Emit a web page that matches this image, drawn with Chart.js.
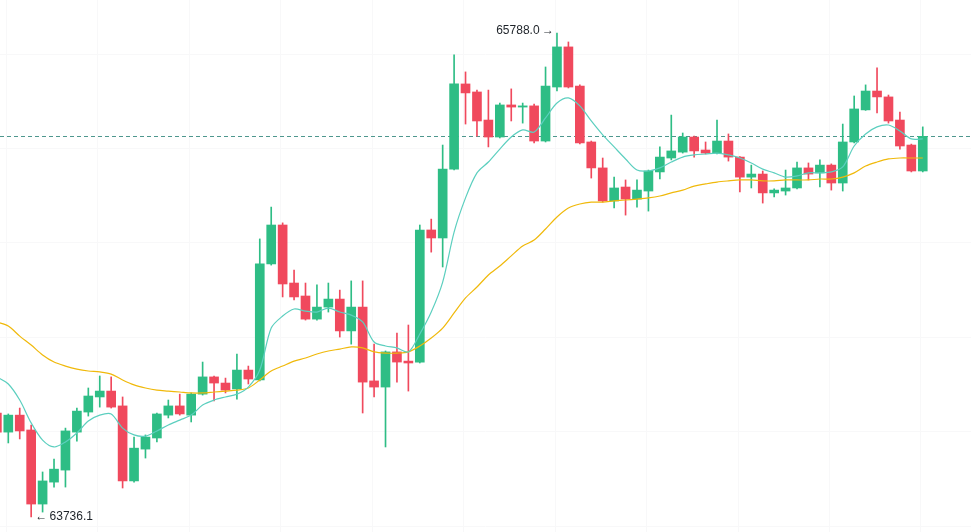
<!DOCTYPE html>
<html lang="es">
<head>
<meta charset="UTF-8">
<title>Gráfico de velas</title>
<script src="https://cdn.jsdelivr.net/npm/chart.js@4.4.0/dist/chart.umd.min.js"></script>
<style>
  html, body { margin: 0; padding: 0; background: #ffffff; }
  #chart-wrap { width: 971px; height: 532px; }
</style>
</head>
<body>
<div id="chart-wrap"><canvas id="velas" width="971" height="532"></canvas></div>
<script>
// Datos de las velas
const opens = [64177, 64096, 64168, 64105, 63791, 63884, 63935, 64096, 64181, 64245,
  64270, 64207, 63889, 64024, 64071, 64168, 64207, 64168, 64257, 64330,
  64304, 64279, 64359, 64317, 64809, 64974, 64728, 64673, 64575, 64626,
  64660, 64525, 64626, 64313, 64287, 64436, 64397, 64393, 64953, 64919,
  65211, 65572, 65538, 65419, 65347, 65483, 65474, 65479, 65330, 65559,
  65729, 65563, 65326, 65216, 65076, 65135, 65084, 65118, 65199, 65258,
  65283, 65347, 65292, 65279, 65330, 65262, 65177, 65190, 65110, 65118,
  65131, 65216, 65195, 65228, 65152, 65326, 65462, 65542, 65517, 65419,
  65313, 65203];
const highs = [64190, 64173, 64198, 64126, 63927, 63982, 64113, 64198, 64283, 64334,
  64330, 64245, 64075, 64084, 64177, 64232, 64257, 64262, 64393, 64334,
  64325, 64427, 64376, 64915, 65050, 64983, 64783, 64728, 64720, 64728,
  64698, 64737, 64737, 64469, 64440, 64516, 64550, 64974, 64999, 65313,
  65695, 65623, 65546, 65546, 65491, 65551, 65491, 65487, 65644, 65788.0,
  65750, 65568, 65330, 65258, 65177, 65165, 65165, 65207, 65305, 65440,
  65364, 65351, 65326, 65419, 65360, 65264, 65228, 65203, 65127, 65207,
  65241, 65237, 65250, 65233, 65402, 65521, 65568, 65640, 65525, 65453,
  65317, 65390];
const lows = [64079, 64050, 64067, 63736.1, 63757, 63863, 63863, 64058, 64164, 64202,
  64198, 63859, 63884, 63986, 64054, 64156, 64168, 64139, 64253, 64228,
  64262, 64236, 64300, 64313, 64804, 64669, 64656, 64571, 64571, 64605,
  64499, 64469, 64177, 64245, 64033, 64308, 64270, 64389, 64859, 64796,
  65207, 65402, 65351, 65305, 65343, 65415, 65406, 65322, 65326, 65542,
  65555, 65318, 65173, 65071, 65046, 65016, 65050, 65033, 65169, 65250,
  65279, 65262, 65275, 65275, 65245, 65114, 65131, 65067, 65093, 65101,
  65127, 65165, 65135, 65122, 65118, 65322, 65460, 65449, 65406, 65296,
  65199, 65199];
const closes = [64096, 64168, 64101, 63791, 63889, 63939, 64101, 64185, 64249, 64270,
  64202, 63889, 64028, 64075, 64173, 64207, 64173, 64257, 64330, 64304,
  64274, 64359, 64321, 64809, 64974, 64724, 64669, 64575, 64626, 64660,
  64525, 64626, 64308, 64287, 64436, 64393, 64389, 64953, 64919, 65211,
  65572, 65534, 65415, 65347, 65483, 65474, 65479, 65330, 65563, 65729,
  65559, 65322, 65216, 65076, 65131, 65084, 65122, 65203, 65262, 65288,
  65347, 65288, 65279, 65330, 65262, 65177, 65190, 65110, 65122, 65131,
  65216, 65190, 65228, 65152, 65326, 65466, 65542, 65517, 65415, 65309,
  65203, 65350];

// Medias móviles
const maFast = [64330, 64300, 64232, 64135, 64062, 64033, 64054, 64092, 64143, 64168,
  64173, 64113, 64084, 64079, 64101, 64126, 64147, 64168, 64211, 64232,
  64245, 64257, 64287, 64359, 64537, 64588, 64618, 64609, 64605, 64622,
  64605, 64592, 64563, 64478, 64461, 64453, 64436, 64512, 64605, 64732,
  64944, 65089, 65195, 65241, 65296, 65347, 65377, 65368, 65428, 65491,
  65513, 65479, 65415, 65356, 65305, 65254, 65207, 65203, 65216, 65241,
  65262, 65271, 65275, 65279, 65271, 65258, 65237, 65211, 65195, 65177,
  65182, 65195, 65195, 65199, 65220, 65309, 65360, 65390, 65398, 65373,
  65339, 65339];
const maSlow = [64563, 64546, 64503, 64465, 64423, 64393, 64376, 64363, 64355, 64351,
  64342, 64317, 64296, 64283, 64274, 64270, 64266, 64262, 64262, 64266,
  64270, 64274, 64283, 64317, 64355, 64376, 64397, 64410, 64427, 64440,
  64448, 64457, 64453, 64436, 64431, 64431, 64436, 64461, 64495, 64537,
  64601, 64665, 64711, 64762, 64800, 64843, 64885, 64910, 64957, 65008,
  65046, 65063, 65071, 65071, 65076, 65080, 65084, 65089, 65097, 65110,
  65122, 65139, 65148, 65156, 65161, 65165, 65165, 65161, 65161, 65165,
  65165, 65165, 65169, 65169, 65177, 65195, 65224, 65241, 65254, 65258,
  65258, 65258];

// Líneas de fondo
const gridIndexes = [0.8, 8.8, 16.8, 24.8, 32.8, 40.8, 48.8, 56.8, 64.8, 72.8, 80.8];
const gridPrices = [65700, 65300, 64900, 64500, 64100, 63700];

// Colores
const upColor = "#2ebd85";
const downColor = "#f0495d";
const fastColor = "#5ccfbf";
const slowColor = "#f0b90b";

document.addEventListener("DOMContentLoaded", function () {
    const ctx = document.getElementById("velas").getContext("2d");

    const indices = opens.map((_, i) => i);
    const candleColors = indices.map(i => closes[i] >= opens[i] ? upColor : downColor);

    // Plugin para rejilla, precio actual y etiquetas de máximo/mínimo
    const extrasPlugin = {
        id: "extras",
        beforeDatasetsDraw(chart) {
            const { ctx, chartArea, scales: { x, y } } = chart;
            ctx.save();
            ctx.lineWidth = 1;
            ctx.strokeStyle = "#f8f8f9";
            gridIndexes.forEach(v => {
                const px = Math.round(x.getPixelForValue(v)) + 0.5;
                ctx.beginPath();
                ctx.moveTo(px, chartArea.top);
                ctx.lineTo(px, chartArea.bottom);
                ctx.stroke();
            });
            gridPrices.forEach(v => {
                const py = Math.round(y.getPixelForValue(v)) + 0.5;
                ctx.beginPath();
                ctx.moveTo(chartArea.left, py);
                ctx.lineTo(chartArea.right, py);
                ctx.stroke();
            });

            // Línea discontinua del último precio
            const lastY = Math.round(y.getPixelForValue(closes[closes.length - 1])) + 0.5;
            ctx.setLineDash([4, 3]);
            ctx.strokeStyle = "#4e978e";
            ctx.beginPath();
            ctx.moveTo(chartArea.left, lastY);
            ctx.lineTo(chartArea.right, lastY);
            ctx.stroke();
            ctx.restore();
        },
        afterDatasetsDraw(chart) {
            const { ctx, scales: { x, y } } = chart;
            const maxHigh = Math.max(...highs);
            const minLow = Math.min(...lows);
            const iMax = highs.indexOf(maxHigh);
            const iMin = lows.indexOf(minLow);

            ctx.save();
            ctx.font = "12px 'Liberation Sans', Arial, sans-serif";
            ctx.fillStyle = "#1e2329";
            ctx.textBaseline = "middle";

            ctx.textAlign = "right";
            ctx.fillText(maxHigh.toFixed(1) + "\u2009→", x.getPixelForValue(iMax) - 3, y.getPixelForValue(maxHigh) - 2);

            ctx.textAlign = "left";
            ctx.fillText("←\u2009" + minLow.toFixed(1), x.getPixelForValue(iMin) + 4, y.getPixelForValue(minLow));
            ctx.restore();
        }
    };

    new Chart(ctx, {
        type: "bar",
        data: {
            datasets: [
                {
                    type: "line",
                    label: "MA rápida",
                    data: indices.map(i => ({ x: i, y: maFast[i] })),
                    borderColor: fastColor,
                    borderWidth: 1.2,
                    pointRadius: 0,
                    tension: 0.3,
                    order: 0,
                },
                {
                    type: "line",
                    label: "MA lenta",
                    data: indices.map(i => ({ x: i, y: maSlow[i] })),
                    borderColor: slowColor,
                    borderWidth: 1.2,
                    pointRadius: 0,
                    tension: 0.3,
                    order: 0,
                },
                {
                    label: "Cuerpo",
                    data: indices.map(i => ({ x: i, y: [opens[i], closes[i]] })),
                    backgroundColor: candleColors,
                    barThickness: 9,
                    minBarLength: 1,
                    grouped: false,
                    borderWidth: 0,
                    order: 1,
                },
                {
                    label: "Mecha",
                    data: indices.map(i => ({ x: i, y: [lows[i], highs[i]] })),
                    backgroundColor: candleColors,
                    barThickness: 1,
                    grouped: false,
                    borderWidth: 0,
                    order: 2,
                },
            ],
        },
        options: {
            responsive: false,
            animation: false,
            devicePixelRatio: 1,
            layout: { padding: 0 },
            plugins: {
                legend: { display: false },
                tooltip: { enabled: false },
            },
            scales: {
                x: {
                    type: "linear",
                    display: false,
                    offset: false,
                    bounds: "ticks",
                    min: 0.274,
                    max: 85.22,
                },
                y: {
                    type: "linear",
                    display: false,
                    min: 63672.5,
                    max: 65927.9,
                },
            },
        },
        plugins: [extrasPlugin],
    });
});
</script>
</body>
</html>
